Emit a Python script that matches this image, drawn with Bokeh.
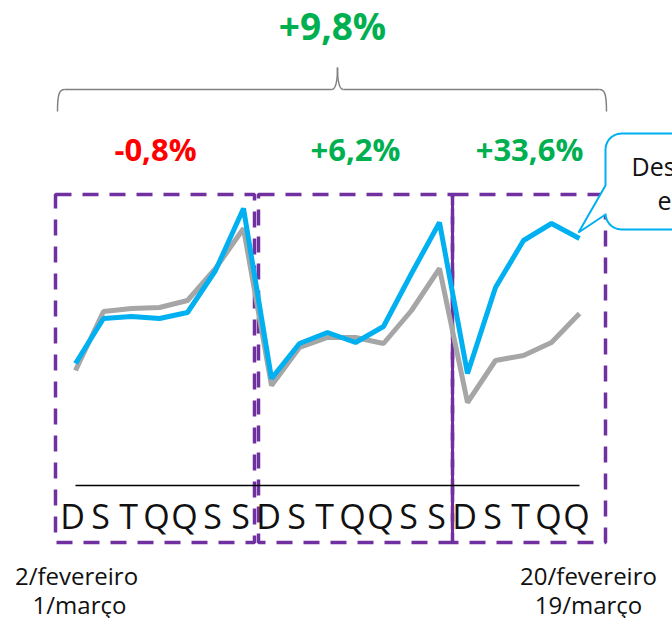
import numpy as np
from bokeh.plotting import figure
from bokeh.models import Range1d
from bokeh.embed import file_html
from bokeh.resources import INLINE
from bokeh.core.properties import value

# ---------------- data ----------------
days = ["D", "S", "T", "Q", "Q", "S", "S",
        "D", "S", "T", "Q", "Q", "S", "S",
        "D", "S", "T", "Q", "Q"]
blue_vals = [122, 167, 169, 167, 173, 215, 277,
             107, 142, 153, 143, 159, 212, 263,
             112, 198, 245, 262, 247]
gray_vals = [115, 174, 177, 178, 185, 217, 257,
             100, 138, 148, 148, 142, 175, 217,
             83, 125, 130, 143, 172]
week_labels = ["-0,8%", "+6,2%", "+33,6%"]
week_colors = ["#FF0000", "#00B050", "#00B050"]
total_label = "+9,8%"
start_dates = ["2/fevereiro", "1/março"]
end_dates = ["20/fevereiro", "19/março"]
callout_lines = ["Desempenho", "em março"]

idx = list(range(len(days)))

# ---------------- layout ----------------
W, H = 672, 618
PX = 28.0            # pixels per day
X0 = -75 / PX        # first day at 75px
Y1 = 485             # value 0 at 485px


def X(px):
    return (px - 75) / PX


def Y(py):
    return 485 - py


FONT = value("Open Sans")
PURPLE = "#7030A0"
BLUE = "#00B0F0"
GRAY = "#A6A6A6"

p = figure(width=W, height=H,
           x_range=Range1d(X0, X0 + W / PX), y_range=Range1d(Y1 - H, Y1),
           output_backend="svg", toolbar_location=None,
           x_axis_type=None, y_axis_type=None, min_border=0)
p.grid.visible = False
p.outline_line_color = None
p.background_fill_color = "white"
p.border_fill_color = "white"

# dashed week boxes
p.quad(left=[X(55), X(258), X(452)], right=[X(254), X(452), X(605)],
       top=[Y(194)] * 3, bottom=[Y(542)] * 3,
       fill_alpha=0, line_color=PURPLE, line_width=3.5, line_dash="16 11")
p.segment(x0=[X(452)], y0=[Y(194)], x1=[X(452)], y1=[Y(542)],
          line_color=PURPLE, line_width=3)

# baseline
p.segment(x0=[idx[0]], y0=[0], x1=[idx[-1]], y1=[0],
          line_color="black", line_width=1.5)

# series
p.line(idx, gray_vals, line_color=GRAY, line_width=5)
p.line(idx, blue_vals, line_color=BLUE, line_width=5)

# day letters
p.text(x=idx, y=[Y(515)] * len(days), text=days, x_offset=-3,
       text_align="center", text_baseline="middle",
       text_font=FONT, text_font_size="34px", text_color="#111111")

# week change labels
p.text(x=[X(155), X(355), X(529)], y=[Y(148)] * 3, text=week_labels,
       text_color=week_colors, text_align="center", text_baseline="middle",
       text_font=FONT, text_font_size="31px", text_font_style="bold")

# total label
p.text(x=[X(332)], y=[Y(25)], text=[total_label], text_color="#00B050",
       text_align="center", text_baseline="middle",
       text_font=FONT, text_font_size="37px", text_font_style="bold")

# brace
BR = "#808080"
p.bezier(x0=[X(57), X(599)], y0=[Y(111), Y(89)],
         x1=[X(64), X(606)], y1=[Y(89), Y(111)],
         cx0=[X(57), X(604)], cy0=[Y(93), Y(89)],
         cx1=[X(59), X(606)], cy1=[Y(89), Y(93)],
         line_color=BR, line_width=1.5)
p.segment(x0=[X(64), X(343)], y0=[Y(89), Y(89)],
          x1=[X(331), X(599)], y1=[Y(89), Y(89)],
          line_color=BR, line_width=1.5)
p.bezier(x0=[X(331), X(343)], y0=[Y(89), Y(89)],
         x1=[X(337), X(337)], y1=[Y(67), Y(67)],
         cx0=[X(335), X(339)], cy0=[Y(89), Y(89)],
         cx1=[X(337), X(337)], cy1=[Y(80), Y(80)],
         line_color=BR, line_width=1.5)

# callout
r = 16
L, T, B, R = 605, 133, 229, 780
pts = [(L, 185), (L, T + r)]
for a in np.linspace(np.pi, 1.5 * np.pi, 8)[1:]:
    pts.append((L + r + r * np.cos(a), T + r + r * np.sin(a)))
pts += [(R, T), (R, B), (L + r, B)]
for a in np.linspace(0.5 * np.pi, np.pi, 8)[1:]:
    pts.append((L + r + r * np.cos(a), B - r + r * np.sin(a)))
pts += [(L, 214), (578, 232)]
p.patch([X(a) for a, b in pts], [Y(b) for a, b in pts],
        fill_color="white", line_color=BLUE, line_width=2)
p.text(x=[X(631), X(657)], y=[Y(165), Y(199)], text=callout_lines,
       text_align="left", text_baseline="middle",
       text_font=FONT, text_font_size="25px", text_color="#111111")

# date labels
p.text(x=[X(76), X(79)], y=[Y(575), Y(604)], text=start_dates,
       text_align="center", text_baseline="middle",
       text_font=FONT, text_font_size="24px", text_color="#111111")
p.text(x=[X(588), X(588)], y=[Y(575), Y(604)], text=end_dates,
       text_align="center", text_baseline="middle",
       text_font=FONT, text_font_size="24px", text_color="#111111")

open("out.html", "w").write(file_html(p, INLINE))
